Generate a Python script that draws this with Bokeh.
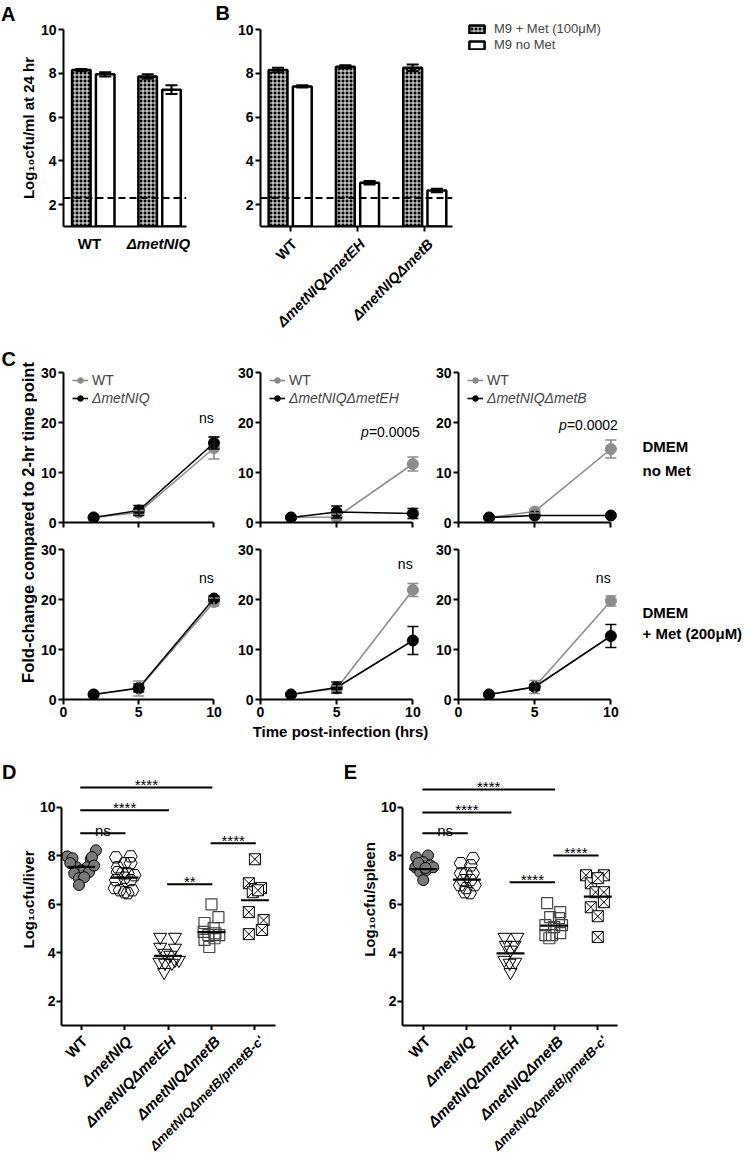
import numpy as np
from math import pi
from bokeh.plotting import figure
from bokeh.models import (Range1d, FixedTicker, Whisker, TeeHead, ColumnDataSource,
                          Span, Label, Legend, LegendItem)
from bokeh.layouts import row, column
from bokeh.core.properties import value
from bokeh.embed import file_html
from bokeh.resources import INLINE

FONT = "Liberation Sans"

# ---------------- data: panel A ----------------
a_groups = ["WT", "ΔmetNIQ"]
a_met = [8.15, 7.85]
a_met_err = [0.05, 0.10]
a_nomet = [7.95, 7.25]
a_nomet_err = [0.10, 0.20]

# ---------------- data: panel B ----------------
b_groups = ["WT", "ΔmetNIQΔmetEH", "ΔmetNIQΔmetB"]
b_met = [8.15, 8.30, 8.25]
b_met_err = [0.10, 0.07, 0.15]
b_nomet = [7.40, 3.00, 2.65]
b_nomet_err = [0.05, 0.08, 0.08]
bar_series = ["M9 + Met (100μM)", "M9 no Met"]
detection_limit = 2.3
axis_floor = 1
ab_ticks = [2, 4, 6, 8, 10]

# ---------------- data: panel C ----------------
c_time = [2, 5, 10]
c_mutants = ["ΔmetNIQ", "ΔmetNIQΔmetEH", "ΔmetNIQΔmetB"]
c_conditions = [["DMEM", "no Met"], ["DMEM", "+ Met (200μM)"]]
c_wt = [[[1, 2.0, 14.9], [1, 1.1, 11.7], [1, 2.2, 14.7]],
        [[1, 2.2, 19.5], [1, 2.2, 21.9], [1, 2.5, 19.7]]]
c_wt_err = [[[0, 0.4, 2.2], [0, 0.6, 1.4], [0, 0.3, 1.8]],
            [[0, 1.5, 0.8], [0, 0.5, 1.3], [0, 1.3, 1.0]]]
c_mut = [[[1, 2.4, 15.9], [1, 2.1, 1.8], [1, 1.4, 1.4]],
         [[1, 2.3, 20.2], [1, 2.4, 11.8], [1, 2.5, 12.7]]]
c_mut_err = [[[0, 1.0, 1.2], [0, 1.2, 1.0], [0, 0, 0]],
             [[0, 0.8, 0.5], [0, 1.1, 2.8], [0, 0.6, 2.3]]]
c_stat_text = [["ns", "p=0.0005", "p=0.0002"], ["ns", "ns", "ns"]]
c_stat_y = [[20.9, 18.1, 19.5], [24.3, 27.2, 24.3]]
c_yticks = [0, 10, 20, 30]
c_xticks = [0, 5, 10]

# ---------------- data: panels D / E ----------------
de_groups = ["WT", "ΔmetNIQ", "ΔmetNIQΔmetEH", "ΔmetNIQΔmetB", "ΔmetNIQΔmetB/pmetB-c'"]

liver_vals = [
    [7.98, 7.90, 8.23, 7.86, 7.53, 7.53, 7.40, 7.33, 7.33, 7.28, 7.08, 7.12, 6.80, 7.95, 7.70, 7.60],
    [7.94, 7.98, 7.70, 7.53, 7.70, 7.33, 7.28, 7.28, 7.20, 7.00, 7.00, 6.58, 6.50, 6.46, 6.58, 6.67, 7.10],
    [4.65, 4.65, 4.24, 4.20, 3.99, 3.91, 3.62, 3.70, 3.58, 3.58, 3.20, 3.70],
    [6.00, 5.47, 5.23, 5.02, 4.86, 4.73, 4.73, 4.60, 4.53, 4.24, 4.80],
    [7.86, 6.87, 6.63, 6.67, 6.50, 6.58, 5.68, 5.35, 4.77, 4.94],
]
liver_jitter = [
    [-0.32, -0.20, 0.34, 0.22, 0.14, -0.11, 0.00, 0.05, 0.18, -0.16, -0.05, 0.07, -0.05, 0.25, -0.25, 0.30],
    [-0.20, 0.14, 0.00, -0.16, 0.14, -0.16, -0.05, 0.07, 0.23, -0.20, 0.14, -0.11, 0.00, 0.07, 0.18, -0.23, 0.00],
    [-0.18, 0.16, -0.18, 0.16, -0.07, 0.05, -0.20, 0.16, -0.07, 0.09, -0.09, 0.25],
    [0.00, 0.16, -0.16, 0.05, -0.18, 0.18, -0.07, 0.07, -0.16, -0.05, 0.09],
    [0.00, -0.14, 0.00, 0.14, -0.05, 0.07, -0.14, 0.20, -0.14, 0.16],
]
liver_means = [7.55, 7.10, 3.87, 4.85, 6.17]
liver_sig = [(0, 3, 10.82, "****"), (0, 2, 9.88, "****"), (0, 1, 8.93, "ns"),
             (2, 3, 6.83, "**"), (3, 4, 8.52, "****")]

spleen_vals = [
    [7.94, 8.02, 7.74, 7.53, 7.61, 7.33, 7.41, 7.53, 7.00, 7.70, 7.50],
    [7.90, 7.70, 7.61, 7.28, 7.00, 7.00, 6.79, 6.79, 6.67, 6.46, 6.50, 7.28, 7.28],
    [4.65, 4.65, 4.32, 4.32, 4.12, 3.70, 3.62, 3.20, 3.58],
    [6.05, 5.68, 5.47, 5.43, 5.14, 5.06, 5.14, 4.73, 4.73, 4.81, 4.60],
    [7.20, 7.20, 6.87, 7.08, 6.50, 6.50, 6.09, 5.88, 5.51, 4.65],
]
spleen_jitter = [
    [-0.16, 0.11, 0.00, -0.18, 0.16, -0.07, 0.07, 0.23, 0.00, -0.11, 0.05],
    [0.14, -0.14, 0.09, -0.02, -0.09, 0.09, -0.16, 0.18, -0.02, 0.07, -0.05, -0.14, 0.14],
    [-0.14, 0.16, -0.11, 0.09, 0.00, -0.14, 0.11, 0.00, -0.02],
    [-0.16, 0.14, -0.09, 0.11, -0.20, 0.00, 0.18, -0.20, -0.05, 0.14, -0.11],
    [-0.27, 0.14, -0.16, 0.00, -0.05, 0.14, 0.14, -0.16, 0.00, 0.00],
]
spleen_means = [7.45, 7.02, 3.98, 5.12, 6.32]
spleen_sig = [(0, 3, 10.74, "****"), (0, 2, 9.79, "****"), (0, 1, 8.93, "ns"),
              (2, 3, 6.91, "****"), (3, 4, 8.02, "****")]


# ---------------- helpers ----------------
def base_fig(width, height, xr, yr, left, right, top, bottom):
    p = figure(width=width, height=height, x_range=Range1d(*xr), y_range=Range1d(*yr),
               min_border_left=left, min_border_right=right,
               min_border_top=top, min_border_bottom=bottom,
               toolbar_location=None, tools="", output_backend="svg")
    p.grid.visible = False
    p.outline_line_color = None
    return p


def strip(width, height, xr=None, left=0, right=0):
    """Axis-less text strip (frame = whole canvas) whose x units line up with a plot."""
    if xr is None:
        x0, x1 = 0, width
    else:
        ppu = (width - left - right) / (xr[1] - xr[0])
        x0, x1 = xr[0] - left / ppu, xr[1] + right / ppu
    p = figure(width=width, height=height, x_range=Range1d(x0, x1), y_range=Range1d(0, height),
               x_axis_type=None, y_axis_type=None, min_border_left=0, min_border_right=0,
               min_border_top=0, min_border_bottom=0, toolbar_location=None,
               tools="", output_backend="svg")
    p.grid.visible = False
    p.outline_line_color = None
    return p


def style_axis(ax, tick_size="14px"):
    ax.axis_line_width = 2
    ax.axis_line_color = "black"
    ax.major_tick_line_width = 2
    ax.major_tick_line_color = "black"
    ax.major_tick_out = 5
    ax.major_tick_in = 0
    ax.minor_tick_line_color = None
    ax.major_label_text_font = FONT
    ax.major_label_text_font_style = "bold"
    ax.major_label_text_font_size = tick_size
    ax.major_label_text_color = "black"
    ax.major_label_standoff = 2
    ax.axis_label_text_font = FONT
    ax.axis_label_text_font_style = "bold"
    ax.axis_label_text_font_size = "15px"
    ax.axis_label_text_color = "black"


def hide_tick_labels(ax, ticks):
    ax.major_label_overrides = {t: "" for t in ticks}
    ax.major_label_text_font_size = "0px"
    ax.major_label_standoff = 0


def add_text(p, x, y, text, size="14px", style="normal", align="left", baseline="middle",
             angle=0.0, x_offset=0, y_offset=0):
    p.add_layout(Label(x=x, y=y, text=text, text_font=FONT, text_font_size=size,
                       text_font_style=style, text_align=align, text_baseline=baseline,
                       angle=angle, x_offset=x_offset, y_offset=y_offset, text_color="black"))


def cat_style(name):
    return "bold italic" if name.startswith("Δ") else "bold"


def hatched(p, **kw):
    return p.vbar(fill_color="black", hatch_pattern="cross", hatch_color="white",
                  hatch_scale=4, hatch_weight=1, line_color="black", line_width=2.5, **kw)


def open_bar(p, **kw):
    return p.vbar(fill_color="white", line_color="black", line_width=2.5, **kw)


def letter_strip(width, height, letter, x, y):
    s = strip(width, height)
    add_text(s, x, y, letter, size="20px", style="bold")
    return s


# ---------------- panels A & B ----------------
ROW1_H = 340
BOT_H = ROW1_H - 234


def bar_panel(groups, met, met_err, nomet, nomet_err, width, left, right, xr, ylabel, ticks_out):
    p = base_fig(width, 234, xr, (axis_floor, 10), left, right, 29, 8)
    x = np.arange(1, len(groups) + 1, dtype=float)
    hatched(p, x=x - 0.18, top=met, bottom=axis_floor, width=0.28)
    open_bar(p, x=x + 0.18, top=nomet, bottom=axis_floor, width=0.28)
    for xs, v, e in ((x - 0.18, met, met_err), (x + 0.18, nomet, nomet_err)):
        v = np.array(v)
        e = np.array(e)
        src = ColumnDataSource(dict(x=xs, up=v + e, lo=v - e))
        p.add_layout(Whisker(base="x", upper="up", lower="lo", source=src, line_width=2,
                             line_color="black", level="annotation",
                             upper_head=TeeHead(size=12, line_width=2),
                             lower_head=TeeHead(size=12, line_width=2)))
    p.add_layout(Span(location=detection_limit, dimension="width", line_color="black",
                      line_width=2, line_dash="7 4"))
    for ax in p.axis:
        style_axis(ax)
    p.yaxis.ticker = FixedTicker(ticks=ab_ticks)
    p.xaxis.ticker = FixedTicker(ticks=list(x))
    hide_tick_labels(p.xaxis[0], list(x))
    p.xaxis.major_tick_out = ticks_out
    if ylabel:
        p.yaxis.axis_label = ylabel
        p.yaxis.axis_label_standoff = 1
    return p, x


xrA = (0.551, 2.406)
xrB = (0.559, 3.412)

sAL = letter_strip(16, ROW1_H, "A", 0.5, ROW1_H - 13)
pA, xA = bar_panel(a_groups, a_met, a_met_err, a_nomet, a_nomet_err, 174, 42, 4, xrA,
                   "Log₁₀cfu/ml at 24 hr", 0)
sA_bot = strip(174, BOT_H, xrA, 42, 4)
for xi, g in zip(xA, a_groups):
    add_text(sA_bot, xi, BOT_H - 9, g, size="15px", style=cat_style(g), align="center")

sBL = letter_strip(44, ROW1_H, "B", 25, ROW1_H - 12)
pB, xB = bar_panel(b_groups, b_met, b_met_err, b_nomet, b_nomet_err, 224, 24, 6, xrB, None, 5)
sB_bot = strip(224, BOT_H, xrB, 24, 6)
for xi, g in zip(xB, b_groups):
    add_text(sB_bot, xi, BOT_H - 7, g, size="14.5px", style=cat_style(g), align="right",
             angle=pi / 4, x_offset=6)

# legend block to the right of panel B (hidden copies of the B bars supply the swatches)
sLeg = strip(287, ROW1_H)
lr1 = hatched(sLeg, x=xB - 0.18, top=b_met, bottom=axis_floor, width=0.28, visible=False)
lr2 = open_bar(sLeg, x=xB + 0.18, top=b_nomet, bottom=axis_floor, width=0.28, visible=False)
legB = Legend(items=[LegendItem(label=bar_series[0], renderers=[lr1]),
                     LegendItem(label=bar_series[1], renderers=[lr2])],
              location=(9, ROW1_H - 52), glyph_width=19, glyph_height=10, label_height=14,
              label_standoff=8, spacing=1, padding=0, margin=0, click_policy="none",
              border_line_color=None, background_fill_alpha=0,
              label_text_font=FONT, label_text_font_size="13px")
sLeg.add_layout(legB)

row1 = row(sAL, column(pA, row(sA_bot)), sBL, column(pB, row(sB_bot)), column(sLeg))

# ---------------- panel C ----------------
GRAY = "#8c8c8c"
C_TOTAL_H = 745 - ROW1_H
pCL = strip(37, C_TOTAL_H)
add_text(pCL, 1, 387, "C", size="20px", style="bold")
add_text(pCL, 27, 223, "Fold-change compared to 2-hr time point", size="16.5px", style="bold",
         align="center", angle=pi / 2)

col_w = [195, 198, 190]
col_left = [24, 28, 28]
col_right = [11, 10, 2]
c_rows = []
for ri in range(2):
    figs = []
    if ri == 0:
        top, bot = 372 - ROW1_H, 10
        h = top + 150 + bot
    else:
        h, top, bot = 213, 17, 46
    for ci in range(3):
        p = base_fig(col_w[ci], h, (0, 10.5), (0, 30), col_left[ci], col_right[ci], top, bot)
        for ax in p.axis:
            style_axis(ax)
        p.xaxis.bounds = (0, 10)
        p.xaxis.ticker = FixedTicker(ticks=c_xticks)
        p.yaxis.ticker = FixedTicker(ticks=c_yticks)
        if ri == 0:
            hide_tick_labels(p.xaxis[0], c_xticks)
        rends = []
        for vals, errs, col in ((c_wt[ri][ci], c_wt_err[ri][ci], GRAY),
                                (c_mut[ri][ci], c_mut_err[ri][ci], "black")):
            lr = p.line(c_time, vals, line_color=col, line_width=1.6)
            sr = p.scatter(c_time, vals, size=11, fill_color=col, line_color=col)
            keep = [i for i, e in enumerate(errs) if e > 0]
            src = ColumnDataSource(dict(x=[c_time[i] for i in keep],
                                        up=[vals[i] + errs[i] for i in keep],
                                        lo=[vals[i] - errs[i] for i in keep]))
            p.add_layout(Whisker(base="x", upper="up", lower="lo", source=src, line_width=1.6,
                                 line_color=col, level="annotation",
                                 upper_head=TeeHead(size=11, line_width=1.6, line_color=col),
                                 lower_head=TeeHead(size=11, line_width=1.6, line_color=col)))
            rends.append((lr, sr))
        if ri == 0:
            for k, (lab, st) in enumerate((("WT", "normal"), (c_mutants[ci], "italic"))):
                lg = Legend(items=[LegendItem(label=lab, renderers=list(rends[k]))],
                            location=(9, 134 - 18 * k), glyph_width=16, glyph_height=14,
                            label_height=14, label_standoff=4, padding=0, margin=0,
                            border_line_color=None, background_fill_alpha=0,
                            label_text_font=FONT, label_text_font_size="14px",
                            label_text_font_style=st)
                p.add_layout(lg)
        txt = c_stat_text[ri][ci]
        ys = c_stat_y[ri][ci]
        if txt.startswith("p="):
            add_text(p, 10, ys, txt[1:], size="14px", align="right", x_offset=7)
            add_text(p, 10, ys, "p", size="14px", style="italic", align="right",
                     x_offset=7 - 51)
        else:
            add_text(p, 9.5, ys, txt, size="14px", align="center")
        if ri == 1 and ci == 1:
            p.xaxis.axis_label = "Time post-infection (hrs)"
            p.xaxis.axis_label_standoff = 3
        figs.append(p)
    cond = c_conditions[ri]
    sC = strip(125, h)
    if ri == 0:
        add_text(sC, 22, 86, cond[0], size="15px", style="bold")
        add_text(sC, 22, 62, cond[1], size="15px", style="bold")
    else:
        add_text(sC, 22, 133, cond[0], size="15px", style="bold")
        add_text(sC, 22, 112, cond[1], size="15px", style="bold")
    figs.append(column(sC))
    c_rows.append(row(*figs))

row2 = row(pCL, column(*c_rows))

# ---------------- panels D & E ----------------
marker_styles = [
    dict(marker="circle", size=11, fill_color="#7a7a7a", line_color="black", line_width=1),
    dict(marker="hex", size=13, fill_color=None, line_color="black", line_width=1),
    dict(marker="inverted_triangle", size=13, fill_color=None, line_color="black", line_width=1),
    dict(marker="square", size=11, fill_color=None, line_color="#444444", line_width=1.2),
    dict(marker="square_x", size=11, fill_color="white", line_color="black", line_width=1),
]


def scatter_panel(vals, jit, means, sig, ylabel, xr, width, left, right):
    p = base_fig(width, 285, xr, (axis_floor, 11.4), left, right, 28, 5)
    for gi, (v, j) in enumerate(zip(vals, jit)):
        xs = [gi + d for d in j]
        p.scatter(xs, v, **marker_styles[gi])
    gx = np.arange(len(means), dtype=float)
    p.segment(x0=gx - 0.32, y0=means, x1=gx + 0.32, y1=means, line_color="black", line_width=2.2)
    s0 = [s[0] - 0.02 for s in sig]
    s1 = [s[1] + 0.02 for s in sig]
    sy = [s[2] for s in sig]
    p.segment(x0=s0, y0=sy, x1=s1, y1=sy, line_color="black", line_width=2)
    p.text(x=[(s[0] + s[1]) / 2 for s in sig], y=sy, text=[s[3] for s in sig],
           text_font=value(FONT), text_font_size="15px", text_align="center",
           text_baseline="alphabetic", y_offset=-3, text_color="black")
    for ax in p.axis:
        style_axis(ax)
    p.yaxis.bounds = (axis_floor, 10)
    p.yaxis.ticker = FixedTicker(ticks=ab_ticks)
    p.yaxis.major_label_standoff = 1
    p.yaxis.axis_label = ylabel
    p.yaxis.axis_label_standoff = 0
    p.xaxis.ticker = FixedTicker(ticks=list(gx))
    hide_tick_labels(p.xaxis[0], list(gx))
    s_bot = strip(width, 131, xr, left, right)
    for xi, g in zip(gx, de_groups):
        size = "15px" if len(g) < 16 else "13px"
        add_text(s_bot, xi, 123, g, size=size, style=cat_style(g), align="right",
                 angle=pi / 4, x_offset=7)
    return column(p, row(s_bot))


sDL = letter_strip(16, 416, "D", 1.5, 1161 - 771.5)
colD = scatter_panel(liver_vals, liver_jitter, liver_means, liver_sig, "Log₁₀cfu/liver",
                     (-0.452, 4.474), 327, 41, 68)
sEL = letter_strip(14, 416, "E", 0.3, 1161 - 771.5)
colE = scatter_panel(spleen_vals, spleen_jitter, spleen_means, spleen_sig, "Log₁₀cfu/spleen",
                     (-0.475, 4.452), 388, 42, 128)

root = column(row1, row2, row(sDL, colD, sEL, colE))

open("out.html", "w").write(file_html(root, INLINE))
